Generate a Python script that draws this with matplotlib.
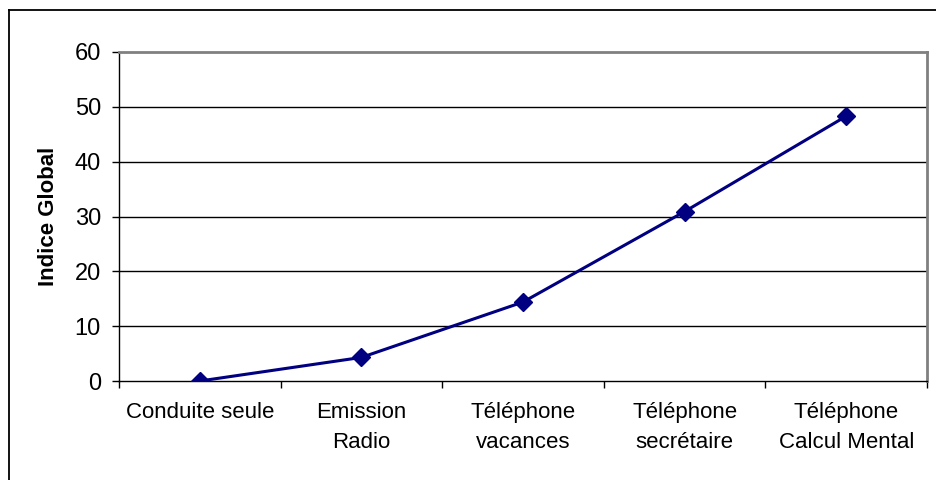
import matplotlib.pyplot as plt
from matplotlib.lines import Line2D

plt.rcParams['font.family'] = ['Liberation Sans', 'DejaVu Sans']

categories = ["Conduite seule", "Emission\nRadio", "Téléphone\nvacances",
              "Téléphone\nsecrétaire", "Téléphone\nCalcul Mental"]
indice = [0, 4.3, 14.4, 30.9, 48.3]
yticks = [0, 10, 20, 30, 40, 50, 60]

fig = plt.figure(figsize=(9.37, 4.8), dpi=100)
ax = fig.add_axes([119 / 937, 1 - 381 / 480, 808 / 937, 329 / 480])

# outer chart border (only left and top visible in the frame)
fig.add_artist(Line2D([9.5 / 937, 9.5 / 937], [0, 1 - 10 / 480], transform=fig.transFigure,
                      color='black', lw=1.3))
fig.add_artist(Line2D([9.5 / 937, 1], [1 - 10 / 480, 1 - 10 / 480], transform=fig.transFigure,
                      color='black', lw=1.3))

x = [i + 0.5 for i in range(len(categories))]
ax.plot(x, indice, color='#000080', lw=2.2, marker='D', markersize=9, zorder=3)

ax.set_xlim(0, len(categories))
ax.set_ylim(0, 60)
ax.set_yticks(yticks)
ax.set_xticks(range(len(categories) + 1))
ax.set_xticklabels([])
ax.set_xticks(x, minor=True)
ax.set_xticklabels(categories, minor=True, fontsize=16, linespacing=1.55)
ax.tick_params(axis='x', which='minor', length=0, pad=15)
ax.tick_params(axis='x', which='major', length=5, width=1, direction='out')
ax.tick_params(axis='y', length=5, width=1, direction='out', labelsize=17, pad=8)

for y in yticks[1:-1]:
    ax.axhline(y, color='black', lw=1, zorder=1)

ax.spines['top'].set_color('#808080')
ax.spines['right'].set_color('#808080')
ax.spines['top'].set_linewidth(2)
ax.spines['right'].set_linewidth(2)
ax.spines['left'].set_linewidth(1)
ax.spines['bottom'].set_linewidth(1)

ax.set_ylabel("Indice Global", fontsize=16, fontweight='bold', labelpad=11)

fig.savefig("out.png", dpi=100)
